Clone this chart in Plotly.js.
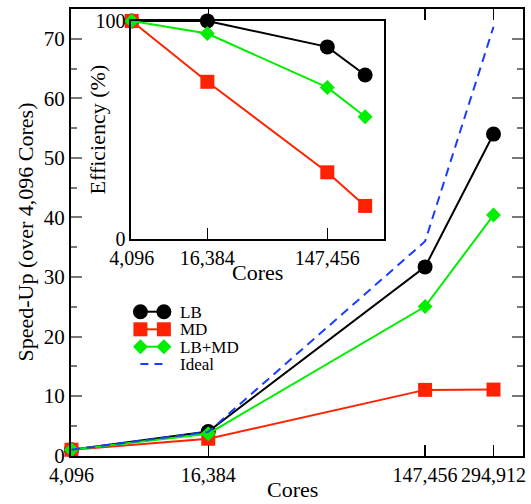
<!DOCTYPE html>
<html>
<head>
<meta charset="utf-8">
<script src="https://cdn.plot.ly/plotly-3.0.1.min.js"></script>
<style>html,body{margin:0;padding:0;background:#fff;}#chart{width:531px;height:504px;}</style>
</head>
<body>
<div id="chart"></div>
<script>
// ---- data ----
const cores = [4096, 16384, 147456, 294912];
const coreLabels = ['4,096', '16,384', '147,456', '294,912'];
const speedLB = [1, 4.05, 31.7, 54.0];
const speedMD = [1, 2.85, 11.05, 11.1];
const speedLBMD = [1, 3.7, 25.05, 40.4];
const speedIdeal = [1, 4, 36, 72];
const effLB = [100, 100, 88.1, 75.2];
const effMD = [100, 72.1, 30.6, 15.2];
const effLBMD = [100, 94.2, 69.5, 56.1];
const insetTickCores = [4096, 16384, 147456];
const insetTickLabels = ['4,096', '16,384', '147,456'];
const legendNames = ['LB', 'MD', 'LB+MD', 'Ideal'];

// ---- style ----
const FONT = 'Liberation Serif';
const BLACK = '#000000', RED = '#ff2200', GREEN = '#00ee00', BLUE = '#1a3cff';
const W = 531, H = 504;
const L = 70.5, R = 523, T = 9, B = 456;
const px = x => (x - L) / (R - L);
const py = y => (B - y) / (B - T);

function tr(x, y, xa, ya, color, sym, size, dash) {
  const t = {x: x, y: y, xaxis: xa, yaxis: ya, type: 'scatter', cliponaxis: false,
    mode: sym ? 'lines+markers' : 'lines', showlegend: false, hoverinfo: 'skip',
    line: {color: color, width: 2, dash: dash || 'solid'}};
  if (sym) t.marker = {symbol: sym, size: size, color: color, line: {width: 0}};
  return t;
}

const data = [
  tr(cores, speedLB, 'x', 'y', BLACK, 'circle', 15),
  tr(cores, speedMD, 'x', 'y', RED, 'square', 14),
  tr(cores, speedLBMD, 'x', 'y', GREEN, 'diamond', 11.5),
  tr(cores, speedIdeal, 'x', 'y', BLUE, null, 0, '9px,6px'),
  tr(cores, effLB, 'x2', 'y2', BLACK, 'circle', 15),
  tr(cores, effMD, 'x2', 'y2', RED, 'square', 14),
  tr(cores, effLBMD, 'x2', 'y2', GREEN, 'diamond', 11.5)
];

// legend built from shapes + annotations
const shapes = [];
const annotations = [];
const rows = [311.7, 329.3, 346.7, 364];
const colors = [BLACK, RED, GREEN, BLUE];
const x1 = 140, x2 = 163.5;
rows.forEach((ry, i) => {
  const c = colors[i];
  shapes.push({type: 'line', xref: 'paper', yref: 'paper', x0: px(x1), x1: px(x2), y0: py(ry), y1: py(ry),
    line: {color: c, width: 2, dash: i === 3 ? '8px,6px' : 'solid'}});
  [x1, x2].forEach(cx => {
    if (i === 0) {
      shapes.push({type: 'circle', xref: 'paper', yref: 'paper', x0: px(cx - 7.5), x1: px(cx + 7.5),
        y0: py(ry + 7.5), y1: py(ry - 7.5), fillcolor: c, line: {width: 0}});
    } else if (i === 1) {
      shapes.push({type: 'rect', xref: 'paper', yref: 'paper', x0: px(cx - 7), x1: px(cx + 7),
        y0: py(ry + 7), y1: py(ry - 7), fillcolor: c, line: {width: 0}});
    } else if (i === 2) {
      const d = 7.5;
      shapes.push({type: 'path', xref: 'paper', yref: 'paper',
        path: 'M' + px(cx - d) + ',' + py(ry) + ' L' + px(cx) + ',' + py(ry - d) + ' L' + px(cx + d) + ',' + py(ry) + ' L' + px(cx) + ',' + py(ry + d) + ' Z',
        fillcolor: c, line: {width: 0}});
    }
  });
  annotations.push({xref: 'paper', yref: 'paper', x: px(178), y: py(ry + 0.5), xanchor: 'left', yanchor: 'middle',
    text: legendNames[i], showarrow: false, font: {family: FONT, size: 17, color: '#000'}});
});

// axis titles placed where the reference shows them
function title(text, x, y, size, angle, yanchor) {
  annotations.push({xref: 'paper', yref: 'paper', x: px(x), y: py(y), xanchor: 'center', yanchor: yanchor || 'middle',
    textangle: angle || 0, text: text, showarrow: false, font: {family: FONT, size: size, color: '#000'}});
}
title('Speed-Up (over 4,096 Cores)', 24, 232, 22, -90);
title('Cores', 292, 504, 22, 0, 'bottom');
title('Efficiency (%)', 98, 129, 22, -90);
title('Cores', 257, 272, 22);

const insetX0 = px(131), insetX1 = px(383.5), insetY0 = py(239.3), insetY1 = py(20.7);
const xmin = Math.log10(4096) - 0.002;

const layout = {
  width: W, height: H,
  margin: {l: L, r: W - R, t: T, b: H - B, pad: 0},
  paper_bgcolor: '#fff', plot_bgcolor: '#fff',
  font: {family: FONT, size: 20, color: '#000'},
  showlegend: false,
  xaxis: {
    type: 'log', range: [xmin, 5.5995], domain: [0, 1], anchor: 'y',
    tickvals: cores, ticktext: coreLabels, ticks: 'inside', ticklen: 11, tickwidth: 1.5, tickcolor: '#000',
    showline: true, linewidth: 2, linecolor: '#000', mirror: 'ticks', showgrid: false, zeroline: false,
    tickfont: {family: FONT, size: 20}
  },
  yaxis: {
    range: [-0.05, 75], domain: [0, 1], anchor: 'x', dtick: 10, tick0: 0,
    ticks: 'inside', ticklen: 11, tickwidth: 2, tickcolor: '#777',
    minor: {dtick: 5, ticks: 'inside', ticklen: 6, tickwidth: 2, tickcolor: '#777'},
    showline: true, linewidth: 2, linecolor: '#000', mirror: 'ticks', showgrid: false, zeroline: false,
    tickfont: {family: FONT, size: 21}
  },
  xaxis2: {
    type: 'log', range: [xmin, 5.617], domain: [insetX0, insetX1], anchor: 'y2',
    tickvals: insetTickCores, ticktext: insetTickLabels, ticks: 'inside', ticklen: 11, tickwidth: 1.5, tickcolor: '#000',
    showline: true, linewidth: 2, linecolor: '#000', mirror: true, showgrid: false, zeroline: false,
    tickfont: {family: FONT, size: 20}
  },
  yaxis2: {
    range: [-0.1, 100.1], domain: [insetY0, insetY1], anchor: 'x2', tickvals: [0, 100], ticktext: ['0', '100'],
    ticks: '', showline: true, linewidth: 2, linecolor: '#000', mirror: true, showgrid: false, zeroline: false,
    tickfont: {family: FONT, size: 20}
  },
  shapes: shapes,
  annotations: annotations
};

Plotly.newPlot('chart', data, layout, {displayModeBar: false, staticPlot: true});
</script>
</body>
</html>
